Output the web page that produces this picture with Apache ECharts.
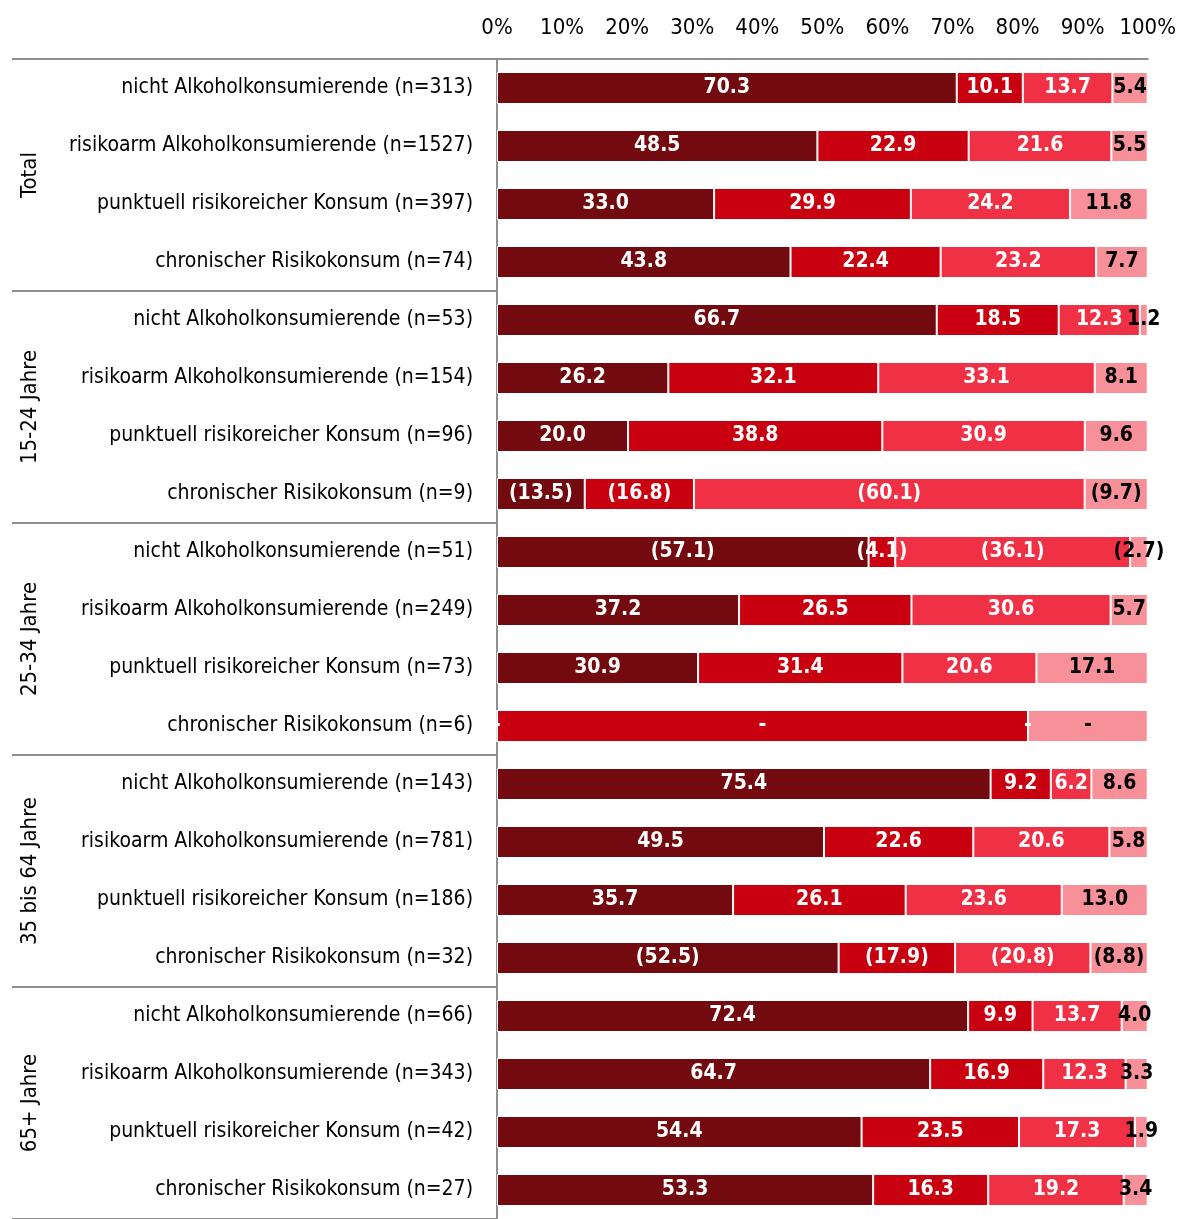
<!DOCTYPE html>
<html>
<head>
<meta charset="utf-8">
<script src="https://cdn.jsdelivr.net/npm/echarts@6/dist/echarts.min.js"></script>
<style>
  html, body { margin: 0; padding: 0; background: #fff; }
  #chart { width: 1179px; height: 1219px; }
</style>
</head>
<body>
<div id="chart"></div>
<script>
// Gruppen (links, gedreht) und Zeilen
const groups = ['Total', '15-24 Jahre', '25-34 Jahre', '35 bis 64 Jahre', '65+ Jahre']

const categories = [
  'nicht Alkoholkonsumierende (n=313)',
  'risikoarm Alkoholkonsumierende (n=1527)',
  'punktuell risikoreicher Konsum (n=397)',
  'chronischer Risikokonsum (n=74)',
  'nicht Alkoholkonsumierende (n=53)',
  'risikoarm Alkoholkonsumierende (n=154)',
  'punktuell risikoreicher Konsum (n=96)',
  'chronischer Risikokonsum (n=9)',
  'nicht Alkoholkonsumierende (n=51)',
  'risikoarm Alkoholkonsumierende (n=249)',
  'punktuell risikoreicher Konsum (n=73)',
  'chronischer Risikokonsum (n=6)',
  'nicht Alkoholkonsumierende (n=143)',
  'risikoarm Alkoholkonsumierende (n=781)',
  'punktuell risikoreicher Konsum (n=186)',
  'chronischer Risikokonsum (n=32)',
  'nicht Alkoholkonsumierende (n=66)',
  'risikoarm Alkoholkonsumierende (n=343)',
  'punktuell risikoreicher Konsum (n=42)',
  'chronischer Risikokonsum (n=27)'
]

// vier Anteile je Zeile (in %)
const share1 = [70.3, 48.5, 33.0, 43.8, 66.7, 26.2, 20.0, 13.5, 57.1, 37.2, 30.9, 0, 75.4, 49.5, 35.7, 52.5, 72.4, 64.7, 54.4, 53.3]
const share2 = [10.1, 22.9, 29.9, 22.4, 18.5, 32.1, 38.8, 16.8, 4.1, 26.5, 31.4, 81.6, 9.2, 22.6, 26.1, 17.9, 9.9, 16.9, 23.5, 16.3]
const share3 = [13.7, 21.6, 24.2, 23.2, 12.3, 33.1, 30.9, 60.1, 36.1, 30.6, 20.6, 0, 6.2, 20.6, 23.6, 20.8, 13.7, 12.3, 17.3, 19.2]
const share4 = [5.4, 5.5, 11.8, 7.7, 1.2, 8.1, 9.6, 9.7, 2.7, 5.7, 17.1, 18.4, 8.6, 5.8, 13.0, 8.8, 4.0, 3.3, 1.9, 3.4]

const xTicks = [0, 10, 20, 30, 40, 50, 60, 70, 80, 90, 100]

// Zeilen mit geringer Fallzahl (in Klammern) bzw. ohne Ausweis
const bracketRows = [7, 8, 15]
const dashRows = [11]

const shares = [share1, share2, share3, share4]
const colors = ['#720a0f', '#c8000f', '#f03045', '#f8909a']
const labelColors = ['#fff', '#fff', '#fff', '#000']
const FONT = "'Liberation Sans Narrow', 'Arial Narrow', 'DejaVu Sans Condensed', sans-serif"
const GRAY = '#8f8f8f'

const rowSums = categories.map((c, i) => shares.reduce((s, arr) => s + arr[i], 0))

const chart = echarts.init(document.getElementById('chart'))

const series = shares.map((arr, k) => ({
  type: 'bar',
  stack: 'total',
  yAxisIndex: 0,
  barWidth: 32,
  itemStyle: { color: colors[k], borderColor: '#fff', borderWidth: 1 },
  label: {
    show: true,
    position: 'inside',
    color: labelColors[k],
    fontFamily: FONT,
    fontWeight: 'bold',
    fontSize: 21,
    formatter: (p) => {
      const i = p.dataIndex
      if (dashRows.includes(i)) return '-'
      const txt = arr[i].toFixed(1)
      return bracketRows.includes(i) ? '(' + txt + ')' : txt
    }
  },
  data: arr.map((v, i) => v / rowSums[i] * 100)
}))

chart.setOption({
  animation: false,
  grid: { left: 497, right: 27, top: 59, height: 1165 },
  xAxis: {
    type: 'value',
    position: 'top',
    min: xTicks[0],
    max: xTicks[xTicks.length - 1],
    interval: 10,
    axisLine: { show: true, lineStyle: { color: GRAY, width: 2 } },
    axisTick: { show: false },
    splitLine: { show: false },
    axisLabel: {
      margin: 20,
      color: '#000',
      fontFamily: FONT,
      fontSize: 22,
      formatter: '{value}%'
    }
  },
  yAxis: [
    {
      type: 'category',
      inverse: true,
      data: categories.map((c, i) => i + '|' + c),
      axisLine: { show: true, lineStyle: { color: GRAY, width: 2 } },
      axisTick: { show: false },
      axisLabel: {
        margin: 24,
        color: '#000',
        fontFamily: FONT,
        fontSize: 21,
        formatter: (v) => v.split('|')[1]
      }
    },
    {
      type: 'category',
      inverse: true,
      position: 'left',
      data: groups,
      axisLine: { show: false },
      axisTick: { show: true, length: 485, interval: 0, lineStyle: { color: GRAY, width: 2 } },
      axisLabel: {
        margin: 456,
        rotate: 90,
        color: '#000',
        fontFamily: FONT,
        fontSize: 22
      }
    }
  ],
  series: series
})
</script>
</body>
</html>
